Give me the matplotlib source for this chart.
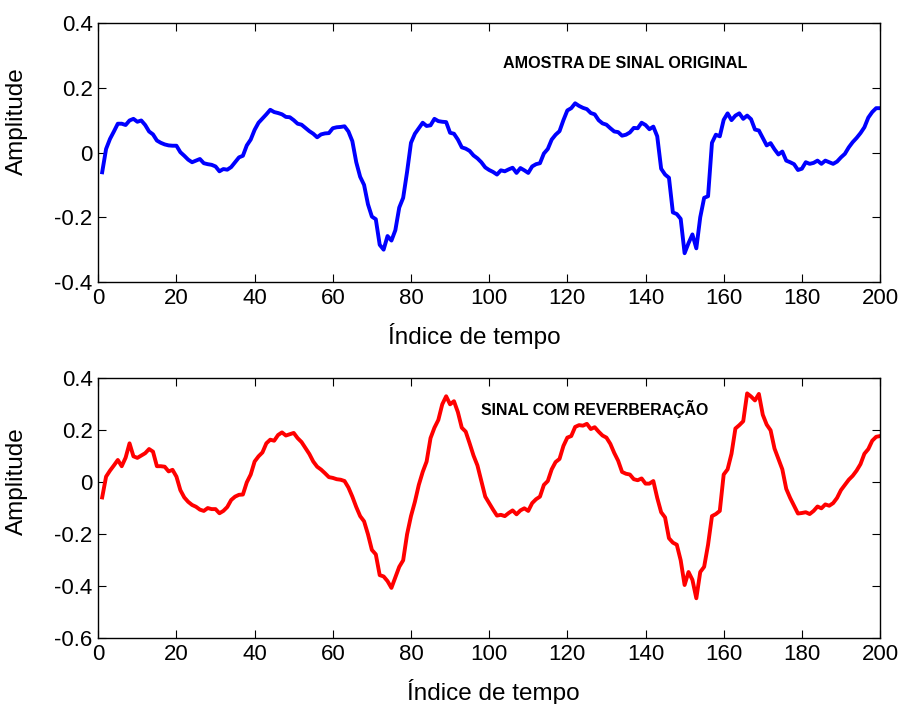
import matplotlib
matplotlib.use("Agg")
import matplotlib.pyplot as plt
import numpy as np

plt.rcParams['font.family'] = ['Liberation Sans', 'DejaVu Sans']
plt.rcParams['axes.unicode_minus'] = False

original = [
    -0.061, 0.011, 0.042, 0.065, 0.089, 0.089, 0.085, 0.099, 0.104, 0.095,
    0.099, 0.085, 0.065, 0.056, 0.037, 0.030, 0.025, 0.022, 0.021, 0.021,
    0.001, -0.010, -0.022, -0.030, -0.025, -0.020, -0.033, -0.036, -0.038, -0.043,
    -0.058, -0.051, -0.053, -0.045, -0.030, -0.015, -0.010, 0.022, 0.040, 0.070,
    0.092, 0.105, 0.118, 0.132, 0.125, 0.122, 0.118, 0.110, 0.109, 0.100,
    0.089, 0.086, 0.076, 0.066, 0.058, 0.047, 0.056, 0.059, 0.060, 0.075,
    0.078, 0.079, 0.081, 0.065, 0.035, -0.030, -0.075, -0.100, -0.160, -0.198,
    -0.206, -0.285, -0.300, -0.258, -0.272, -0.240, -0.170, -0.140, -0.060, 0.030,
    0.058, 0.075, 0.092, 0.082, 0.084, 0.104, 0.097, 0.095, 0.094, 0.061,
    0.058, 0.040, 0.016, 0.012, 0.005, -0.009, -0.018, -0.030, -0.046, -0.054,
    -0.060, -0.068, -0.055, -0.058, -0.052, -0.047, -0.063, -0.048, -0.055, -0.063,
    -0.043, -0.036, -0.033, -0.003, 0.011, 0.040, 0.055, 0.066, 0.100, 0.130,
    0.137, 0.152, 0.144, 0.138, 0.134, 0.122, 0.118, 0.100, 0.090, 0.086,
    0.075, 0.065, 0.063, 0.052, 0.055, 0.062, 0.076, 0.075, 0.092, 0.085,
    0.072, 0.080, 0.050, -0.050, -0.068, -0.078, -0.185, -0.190, -0.205, -0.311,
    -0.280, -0.253, -0.296, -0.200, -0.140, -0.135, 0.030, 0.055, 0.050, 0.101,
    0.121, 0.100, 0.114, 0.121, 0.104, 0.114, 0.103, 0.071, 0.068, 0.045,
    0.022, 0.029, 0.010, -0.006, 0.003, -0.025, -0.030, -0.036, -0.054, -0.050,
    -0.030, -0.035, -0.032, -0.025, -0.035, -0.025, -0.030, -0.035, -0.028, -0.015,
    -0.004, 0.016, 0.032, 0.045, 0.060, 0.078, 0.108, 0.125, 0.137, 0.137,
]

reverb = [
    -0.058, 0.022, 0.045, 0.065, 0.086, 0.062, 0.095, 0.150, 0.100, 0.094,
    0.103, 0.112, 0.128, 0.118, 0.062, 0.062, 0.060, 0.042, 0.048, 0.022,
    -0.030, -0.058, -0.075, -0.087, -0.094, -0.105, -0.110, -0.099, -0.103, -0.103,
    -0.119, -0.110, -0.095, -0.068, -0.055, -0.048, -0.047, 0.000, 0.030, 0.080,
    0.100, 0.115, 0.150, 0.164, 0.160, 0.182, 0.192, 0.180, 0.185, 0.190,
    0.170, 0.155, 0.132, 0.109, 0.080, 0.060, 0.049, 0.035, 0.020, 0.017,
    0.012, 0.010, 0.005, -0.020, -0.055, -0.095, -0.130, -0.150, -0.200, -0.260,
    -0.277, -0.357, -0.362, -0.380, -0.406, -0.365, -0.325, -0.300, -0.200, -0.130,
    -0.075, -0.010, 0.040, 0.080, 0.170, 0.210, 0.240, 0.300, 0.331, 0.300,
    0.312, 0.270, 0.210, 0.195, 0.150, 0.103, 0.065, 0.005, -0.055, -0.080,
    -0.105, -0.128, -0.125, -0.130, -0.118, -0.108, -0.123, -0.108, -0.100, -0.110,
    -0.080, -0.065, -0.055, -0.010, 0.005, 0.050, 0.078, 0.090, 0.140, 0.172,
    0.178, 0.213, 0.220, 0.218, 0.225, 0.205, 0.212, 0.195, 0.180, 0.172,
    0.148, 0.113, 0.083, 0.040, 0.033, 0.030, 0.012, 0.008, 0.015, -0.005,
    -0.005, 0.005, -0.060, -0.115, -0.135, -0.215, -0.232, -0.240, -0.300, -0.395,
    -0.345, -0.375, -0.446, -0.345, -0.325, -0.240, -0.130, -0.122, -0.110, 0.030,
    0.050, 0.110, 0.207, 0.220, 0.235, 0.342, 0.330, 0.315, 0.340, 0.260,
    0.222, 0.200, 0.130, 0.090, 0.050, -0.025, -0.060, -0.090, -0.120, -0.118,
    -0.115, -0.122, -0.110, -0.093, -0.100, -0.085, -0.090, -0.080, -0.060, -0.030,
    -0.010, 0.010, 0.025, 0.045, 0.070, 0.110, 0.128, 0.160, 0.175, 0.178,
]

x_ticks = [0, 20, 40, 60, 80, 100, 120, 140, 160, 180, 200]
top_yticks = [-0.4, -0.2, 0, 0.2, 0.4]
top_ylabels = ['-0.4', '-0.2', '0', '0.2', '0.4']
bot_yticks = [-0.6, -0.4, -0.2, 0, 0.2, 0.4]
bot_ylabels = ['-0.6', '-0.4', '-0.2', '0', '0.2', '0.4']
xlabel = 'Índice de tempo'
ylabel = 'Amplitude'
title_top = 'AMOSTRA DE SINAL ORIGINAL'
title_bot = 'SINAL COM REVERBERAÇÃO'

n = np.arange(1, len(original) + 1)

fig = plt.figure(figsize=(9.04, 7.04), dpi=100)
ax1 = fig.add_axes([0.1087, 0.5994, 0.8648, 0.3679])
ax2 = fig.add_axes([0.1087, 0.0933, 0.8648, 0.3693])

def style(ax, yticks, ylabels, ylim, xl_pos, yl_pos):
    ax.set_xlim(0, 200)
    ax.set_ylim(*ylim)
    ax.set_xticks(x_ticks)
    ax.set_xticklabels([str(t) for t in x_ticks])
    ax.set_yticks(yticks)
    ax.set_yticklabels(ylabels)
    ax.tick_params(direction='in', length=5.5, width=0.8, labelsize=16,
                   top=True, right=True, pad=4)
    for s in ax.spines.values():
        s.set_linewidth(1.0)
    ax.set_xlabel(xlabel, fontsize=17.5)
    ax.set_ylabel(ylabel, fontsize=17.5)
    ax.xaxis.set_label_coords(*xl_pos)
    ax.yaxis.set_label_coords(*yl_pos)

ax1.plot(n, original, color='#0000ff', linewidth=2.8)
style(ax1, top_yticks, top_ylabels, (-0.4, 0.4), (0.481, -0.160), (-0.090, 0.622))
ax1.text(103.5, 0.275, title_top, fontsize=11.6, fontweight='bold', va='center', ha='left')

ax2.plot(n, reverb, color='#ff0000', linewidth=2.8)
style(ax2, bot_yticks, bot_ylabels, (-0.6, 0.4), (0.505, -0.158), (-0.090, 0.605))
ax2.text(97.9, 0.283, title_bot, fontsize=11.4, fontweight='bold', va='center', ha='left')

fig.savefig('out.png', dpi=100)
